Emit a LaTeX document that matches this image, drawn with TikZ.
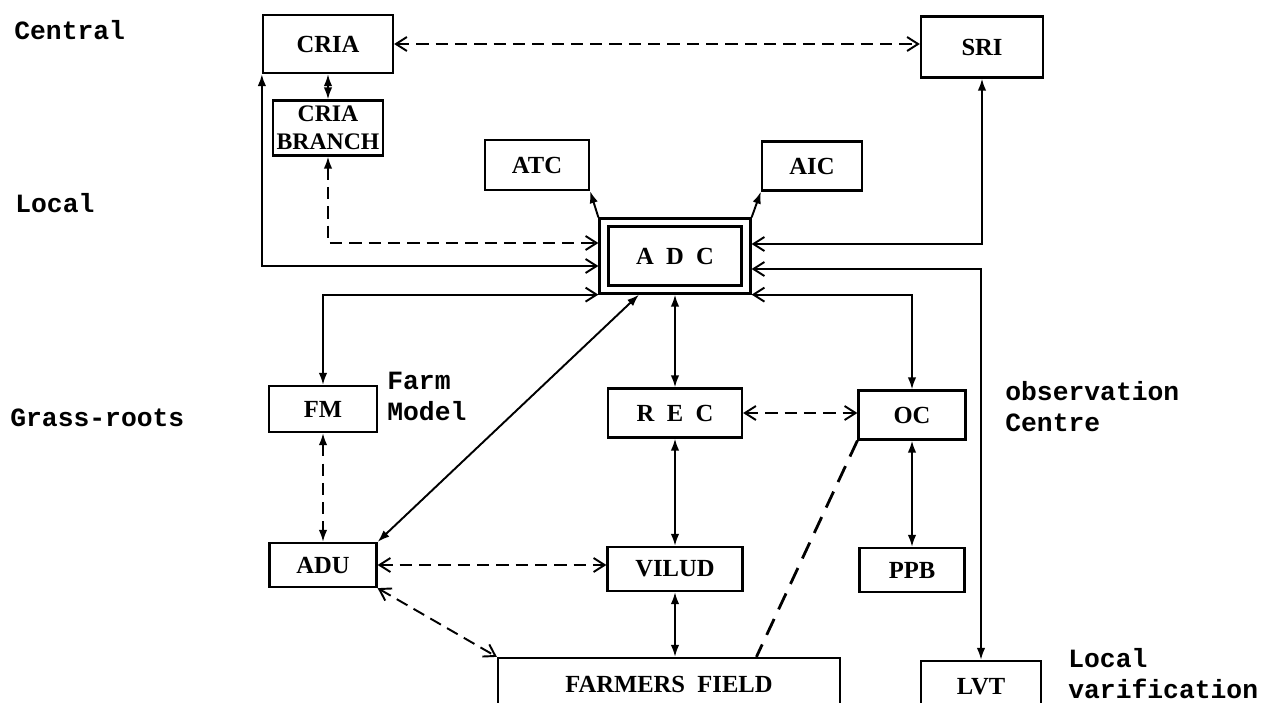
\documentclass[tikz,border=0pt]{standalone}
\usepackage{fontspec}
\setmainfont{Liberation Serif}
\setmonofont{Liberation Mono}
\usetikzlibrary{arrows.meta, calc}

\begin{document}
\begin{tikzpicture}[x=0.02cm, y=-0.02cm, >={Latex[length=2.4mm,width=1.7mm]},
        font=\fontsize{14}{16}\selectfont\bfseries,
        unit/.style={draw, line width=1.3pt, inner sep=0pt, align=center},
        level/.style={font=\fontsize{15}{17}\selectfont\ttfamily\bfseries, inner sep=0pt, anchor=west},
        note/.style={font=\fontsize{15}{17.5}\selectfont\ttfamily\bfseries, inner sep=0pt, anchor=north west, align=left},
        link/.style={line width=1.1pt},
        dlink/.style={line width=1.1pt, dash pattern=on 7pt off 4pt},
        open both/.style={arrows={Straight Barb[length=2.2mm,width=2.8mm]-Straight Barb[length=2.2mm,width=2.8mm]}},
        open end/.style={arrows={Latex[length=2.4mm,width=1.7mm]-Straight Barb[length=2.2mm,width=2.8mm]}}]

        \useasboundingbox (0, 0) rectangle (1261, 703);

        % -----------------------
        % Level labels
        % -----------------------
        \node[level] (central) at (14, 30) {Central};
        \node[level] (local) at (15, 203) {Local};
        \node[level] (grass) at (10, 418) {Grass-roots};

        % -----------------------
        % Central level
        % -----------------------
        \node[unit, minimum width=2.6cm, minimum height=1.16cm] (cria) at (328, 44) {CRIA};
        \node[unit, minimum width=2.44cm, minimum height=1.22cm] (sri) at (982, 47) {SRI};
        \node[unit, minimum width=2.2cm, minimum height=1.1cm, font=\fontsize{13.5}{16}\selectfont\bfseries] (branch) at (328, 128) {CRIA\\BRANCH};

        % -----------------------
        % Local level
        % -----------------------
        \node[unit, minimum width=2.08cm, minimum height=1cm] (atc) at (537, 165) {ATC};
        \node[unit, minimum width=2cm, minimum height=0.98cm] (aic) at (812, 166) {AIC};
        \node[unit, minimum width=3.02cm, minimum height=1.5cm] (adc) at (675, 256) {};
        \node[unit, minimum width=2.66cm, minimum height=1.18cm] (adcin) at (adc) {A\enspace D\enspace C};

        \node[unit, minimum width=2.16cm, minimum height=0.92cm] (fm) at (323, 409) {FM};
        \node[unit, minimum width=2.68cm, minimum height=0.98cm] (rec) at (675, 413) {R\enspace E\enspace C};
        \node[unit, minimum width=2.14cm, minimum height=0.98cm] (oc) at (912, 415) {OC};
        \node[note] (farmmodel) at (387, 372) {Farm\\Model};
        \node[note] (obs) at (1005, 381) {observation\\Centre};

        % -----------------------
        % Grass-roots level
        % -----------------------
        \node[unit, minimum width=2.14cm, minimum height=0.88cm] (adu) at (323, 565) {ADU};
        \node[unit, minimum width=2.7cm, minimum height=0.88cm] (vilud) at (675, 569) {VILUD};
        \node[unit, minimum width=2.1cm, minimum height=0.88cm] (ppb) at (912, 570) {PPB};
        \node[unit, minimum width=6.84cm, minimum height=1.04cm] (ff) at (669, 684) {FARMERS\enspace FIELD};
        \node[unit, minimum width=2.4cm, minimum height=1.04cm] (lvt) at (981, 687) {LVT};
        \node[note] (lvtnote) at (1068, 648) {Local\\varification};

        % -----------------------
        % Links
        % -----------------------
        \draw[dlink, open both] (cria.east) -- (cria.east -| sri.west);
        \draw[link, <->] (branch.north) -- (cria.south);
        \draw[dlink, open end] (branch.south) |- (adc.west |- 0,243);
        \draw[link, open end] (cria.south west) |- (adc.west |- 0,266);
        \draw[link, open end] (fm.north) |- (adc.south west);
        \draw[link, open end] (sri.south) |- (adc.east |- 0,244);
        \draw[link, open end] (lvt.north) |- (adc.east |- 0,269);
        \draw[link, open end] (oc.north) |- (adc.south east);
        \draw[link, ->] (adc.north west) -- (atc.south east);
        \draw[link, ->] (adc.north east) -- (aic.south west);

        \draw[link, <->] (adc.south) -- (rec.north);
        \draw[link, <->] (adc.-133) -- (adu.north east);
        \draw[dlink, open both] (rec.east) -- (rec.east -| oc.west);
        \draw[link, <->] (rec.south) -- (vilud.north);
        \draw[link, <->] (oc.south) -- (ppb.north);
        \draw[dlink, <->] (fm.south) -- (adu.north);

        \draw[dlink, open both] (adu.east) -- (adu.east -| vilud.west);
        \draw[dlink, open both] (adu.south east) -- (ff.north west);
        \draw[link, <->] (vilud.south) -- (vilud.south |- ff.north);
        \draw[dlink, line width=1.6pt, dash pattern=on 10pt off 6pt] (oc.south west) -- ($(ff.north west)!0.754!(ff.north east)$);

    \end{tikzpicture}
\end{document}
